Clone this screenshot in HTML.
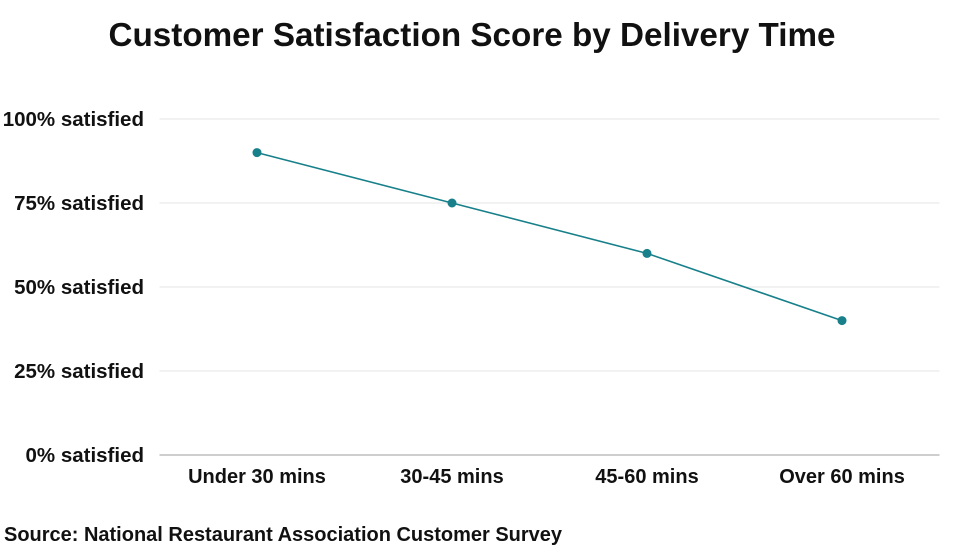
<!DOCTYPE html>
<html>
<head>
<meta charset="utf-8">
<style>
  html,body{margin:0;padding:0;background:#fff;}
  body{width:975px;height:548px;overflow:hidden;font-family:"Liberation Sans",sans-serif;}
  svg text{font-family:"Liberation Sans",sans-serif;font-weight:bold;fill:#111;}
</style>
</head>
<body>
<svg id="chart" width="975" height="548" viewBox="0 0 975 548" xmlns="http://www.w3.org/2000/svg">
  <text x="472" y="46" text-anchor="middle" font-size="33" textLength="727" lengthAdjust="spacingAndGlyphs">Customer Satisfaction Score by Delivery Time</text>
  <g id="grid"></g>
  <g id="yaxis"></g>
  <g id="xaxis"></g>
  <g id="series"></g>
  <text x="4" y="541" font-size="20" textLength="558" lengthAdjust="spacingAndGlyphs">Source: National Restaurant Association Customer Survey</text>
</svg>
<script>
const categories = ["Under 30 mins", "30-45 mins", "45-60 mins", "Over 60 mins"];
const satisfaction = [90, 75, 60, 40];
const yTicks = [0, 25, 50, 75, 100];
const yTickLabels = ["0% satisfied", "25% satisfied", "50% satisfied", "75% satisfied", "100% satisfied"];

const NS = "http://www.w3.org/2000/svg";
const plotLeft = 159.5, plotRight = 939.5, plotTop = 119, plotBottom = 455;
const band = (plotRight - plotLeft) / categories.length;
function xPos(i){ return plotLeft + band * (i + 0.5); }
function yPos(v){ return plotBottom - (v / 100) * (plotBottom - plotTop); }
function mk(tag, attrs, parent){
  const el = document.createElementNS(NS, tag);
  for (const k in attrs) el.setAttribute(k, attrs[k]);
  parent.appendChild(el);
  return el;
}
const grid = document.getElementById('grid');
const yaxis = document.getElementById('yaxis');
const xaxis = document.getElementById('xaxis');
const series = document.getElementById('series');

yTicks.forEach((t, i) => {
  const y = yPos(t);
  const gl = mk('line', {x1: plotLeft, x2: plotRight, y1: y, y2: y, stroke: t === 0 ? '#bdbdbd' : '#e6e6e6', 'stroke-width': t === 0 ? 1.5 : 1}, grid);
  
  
  const lab = mk('text', {x: 144, y: y + 7, 'text-anchor': 'end', 'font-size': 20.5}, yaxis);
  lab.textContent = yTickLabels[i];
  
  
});

categories.forEach((c, i) => {
  const lab = mk('text', {x: xPos(i), y: 483, 'text-anchor': 'middle', 'font-size': 20}, xaxis);
  lab.textContent = c;
  
  
});

const pts = satisfaction.map((v, i) => xPos(i) + ',' + yPos(v)).join(' ');
const line = mk('polyline', {points: pts, fill: 'none', stroke: '#17808a', 'stroke-width': 1.6}, series);


satisfaction.forEach((v, i) => {
  const p = mk('circle', {cx: xPos(i), cy: yPos(v), r: 4.5, fill: '#17808a'}, series);
  
  
});
</script>
</body>
</html>
